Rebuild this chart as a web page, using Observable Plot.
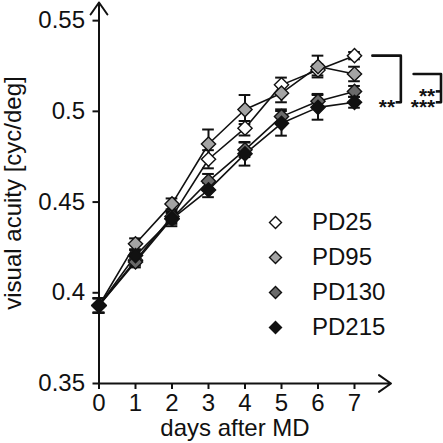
<!DOCTYPE html>
<html><head><meta charset="utf-8">
<script src="https://cdn.jsdelivr.net/npm/d3@7"></script>
<script src="https://cdn.jsdelivr.net/npm/@observablehq/plot@0.6"></script>
<style>
body{margin:0;background:#fff}
svg{font-family:"Liberation Sans",Arial,sans-serif}
</style>
</head><body><div id="chart"></div>
<script>
const days = [0, 1, 2, 3, 4, 5, 6, 7];
const groups = ["PD25", "PD95", "PD130", "PD215"];
const pd25  = [0.393, 0.418, 0.442, 0.4736, 0.4907, 0.5146, 0.5228, 0.5307];
const pd95  = [0.393, 0.427, 0.449, 0.482, 0.501, 0.510, 0.5247, 0.5206];
const pd130 = [0.393, 0.417, 0.441, 0.4615, 0.4788, 0.4971, 0.5056, 0.511];
const pd215 = [0.393, 0.4205, 0.4407, 0.4567, 0.4766, 0.4934, 0.5022, 0.505];
const sem25  = [0.004, 0.003, 0.003, 0.005, 0.004, 0.004, 0.003, 0.002];
const sem95  = [0.004, 0.003, 0.003, 0.008, 0.008, 0.005, 0.006, 0.004];
const sem130 = [0.004, 0.003, 0.003, 0.004, 0.004, 0.004, 0.004, 0.003];
const sem215 = [0.004, 0.003, 0.004, 0.004, 0.0065, 0.0068, 0.0068, 0.003];
const yTicks = [0.35, 0.4, 0.45, 0.5, 0.55];
const xLabel = "days after MD";
const yLabel = "visual acuity [cyc/deg]";
// significance at day 7: bracket 1 (PD25 vs PD215), bracket 2 (PD95 vs PD130, PD95 vs PD215)
const sig = [
  {ref: "PD25", other: "PD215", label: "**", bracket: 0},
  {ref: "PD95", other: "PD130", label: "**", bracket: 1},
  {ref: "PD95", other: "PD215", label: "***", bracket: 1}
];

const fills = ["#ffffff", "#a4a4a4", "#6a6a6a", "#111111"];
const values = [pd25, pd95, pd130, pd215];
const sems = [sem25, sem95, sem130, sem215];
const rows = [];
groups.forEach((g, i) => days.forEach((d, j) => rows.push({group: g, day: d, v: values[i][j], e: sems[i][j]})));
const last = g => values[groups.indexOf(g)][days.length - 1];
const lastDay = days[days.length - 1];

const cap = 0.16;
// bracket geometry in day units beyond the last day
const bx = [{x1: lastDay + 0.49, x2: lastDay + 1.27}, {x1: lastDay + 1.62, x2: lastDay + 2.37}];
const tick = 0.13;

const bracketLines = [];
const bracketTicks = [];
const bracketLabels = [];
[0, 1].forEach(b => {
  const items = sig.filter(s => s.bracket === b);
  const top = last(items[0].ref);
  const bottom = Math.min(...items.map(s => last(s.other)));
  bracketLines.push({x: [bx[b].x1, bx[b].x2, bx[b].x2], y: [top, top, bottom]});
  items.forEach(s => {
    bracketTicks.push({x1: bx[b].x2 - tick, x2: bx[b].x2, y: last(s.other)});
    bracketLabels.push({x: bx[b].x2 - tick, y: last(s.other), label: s.label});
  });
});

const marks = [
  Plot.arrow([0], {x1: 0, x2: 8, y1: 0.35, y2: 0.35, stroke: "#111", strokeWidth: 2, headLength: 11, headAngle: 70}),
  Plot.arrow([0], {x1: 0, x2: 0, y1: 0.35, y2: 0.56, stroke: "#111", strokeWidth: 2, headLength: 11, headAngle: 70}),
  Plot.axisX({ticks: days, tickSize: 6, tickPadding: 4, fontSize: 24, label: null, strokeWidth: 2, tickFormat: d => String(d)}),
  Plot.axisY({ticks: yTicks, tickSize: 6, tickPadding: 8, fontSize: 24, label: null, strokeWidth: 2, tickFormat: d => String(+d.toFixed(2))}),
  Plot.line(rows, {x: "day", y: "v", z: "group", stroke: "#111", strokeWidth: 1.6}),
  Plot.ruleX(rows, {x: "day", y1: d => d.v - d.e, y2: d => d.v + d.e, stroke: "#111", strokeWidth: 2}),
  Plot.ruleY(rows, {y: d => d.v + d.e, x1: d => d.day - cap, x2: d => d.day + cap, stroke: "#111", strokeWidth: 2}),
  Plot.ruleY(rows, {y: d => d.v - d.e, x1: d => d.day - cap, x2: d => d.day + cap, stroke: "#111", strokeWidth: 2}),
  Plot.dot(rows, {x: "day", y: "v", symbol: "diamond2", r: 6.4, fill: "group", stroke: "#111", strokeWidth: 1.4}),
  ...bracketLines.map(b => Plot.line(b.x.map((x, k) => ({x, y: b.y[k]})), {x: "x", y: "y", stroke: "#111", strokeWidth: 2.6})),
  Plot.ruleY(bracketTicks, {y: "y", x1: "x1", x2: "x2", stroke: "#111", strokeWidth: 2.6}),
  Plot.text(bracketLabels, {x: "x", y: "y", text: "label", textAnchor: "end", dx: -1, dy: 5, fontSize: 21, fontWeight: "bold", fill: "#111"}),
  Plot.text([yLabel], {frameAnchor: "left", dx: -86, rotate: -90, fontSize: 24, fill: "#111", textAnchor: "middle", lineAnchor: "middle"}),
  Plot.text([xLabel], {frameAnchor: "bottom", dx: -10, dy: 45, fontSize: 24, fill: "#111", textAnchor: "middle", lineAnchor: "middle"})
];
groups.forEach((g, i) => {
  marks.push(Plot.dot([g], {frameAnchor: "top-left", dx: 176.5, dy: 220 + 35 * i, symbol: "diamond2", r: 5.4, fill: fills[i], stroke: "#111", strokeWidth: 1.4}));
  marks.push(Plot.text([g], {frameAnchor: "top-left", dx: 213, dy: 220 + 35 * i, text: d => d, textAnchor: "start", lineAnchor: "middle", fontSize: 24, fill: "#111"}));
});

const chart = Plot.plot({
  width: 443, height: 443,
  marginLeft: 98.5, marginRight: 52.5, marginTop: 2, marginBottom: 60,
  x: {domain: [0, 8]},
  y: {domain: [0.35, 0.56]},
  color: {domain: groups, range: fills},
  clip: false,
  style: {fontFamily: "Liberation Sans, Arial, sans-serif", color: "#111", overflow: "visible"},
  marks
});
document.getElementById("chart").appendChild(chart);
</script>
</body></html>
